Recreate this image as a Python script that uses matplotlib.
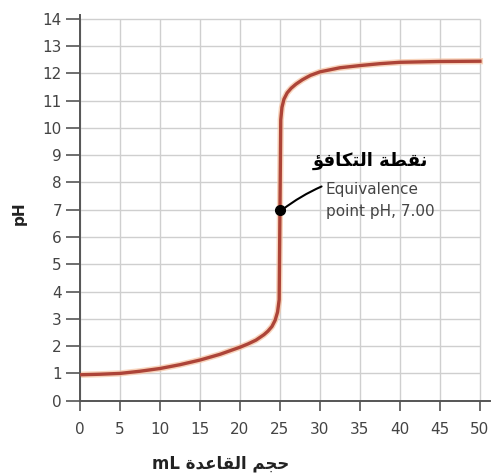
import matplotlib
matplotlib.use('Agg')
import matplotlib.pyplot as plt

# titration curve: volume of base added (mL) vs pH
volume = [0, 2.5, 5, 7.5, 10, 12.5, 15, 17.5, 20, 21, 22, 23, 23.5, 24, 24.4, 24.7, 24.9,
          25.0, 25.1, 25.25, 25.5, 25.9, 26.4, 27, 27.8, 28.8, 30, 32.5, 35, 37.5, 40, 45, 50]
ph = [0.95, 0.97, 1.0, 1.08, 1.18, 1.32, 1.49, 1.7, 1.96, 2.08, 2.22, 2.42, 2.55, 2.72, 2.95, 3.25, 3.7,
      7.0, 10.3, 10.75, 11.05, 11.28, 11.45, 11.6, 11.76, 11.92, 12.05, 12.2, 12.28, 12.35, 12.4, 12.43, 12.44]

x_ticks = list(range(0, 51, 5))
y_ticks = list(range(0, 15))

equiv_x = 25.0
equiv_ph = 7.0

# arabic strings written in presentation forms, visual order (no shaping in matplotlib)
title_ar = "\uFE86\uFED3\uFE8E\uFEDC\uFE98\uFEDF\uFE8D \uFE94\uFEC4\uFED8\uFEE7"
xlabel_ar = "mL \uFE93\uFEAA\uFECB\uFE8E\uFED8\uFEDF\uFE8D \uFEE2\uFEA0\uFEA3"

fig = plt.figure(figsize=(4.92, 4.75), dpi=100)
ax = fig.add_axes([0.1626, 0.1564, 0.834, 0.813])

# grid limited to the 0-50 / 0-14 box
ax.hlines(y_ticks, 0, 50, color='#cfcfcf', lw=1.0, zorder=1)
ax.vlines(x_ticks, 0, 14, color='#cfcfcf', lw=1.0, zorder=1)

ax.plot(volume, ph, color='#f6c2a0', lw=4.5, alpha=0.7, solid_joinstyle='round', zorder=2)
ax.plot(volume, ph, color='#ad4438', lw=2.4, solid_joinstyle='round', zorder=3)
ax.plot([equiv_x], [equiv_ph], 'o', color='black', ms=7, zorder=4)

ax.annotate('', xy=(equiv_x + 0.3, equiv_ph), xytext=(30.2, 7.85),
            arrowprops=dict(arrowstyle='-', color='black', lw=1.5,
                            connectionstyle='arc3,rad=0.06', shrinkA=0, shrinkB=0))
ax.text(29.1, 8.78, title_ar, fontsize=13, fontweight='bold', color='black',
        ha='left', va='center', family='DejaVu Sans')
ax.text(30.75, 7.75, 'Equivalence', fontsize=11, color='#444444', ha='left', va='center')
ax.text(30.75, 6.95, 'point pH, 7.00', fontsize=11, color='#444444', ha='left', va='center')

ax.set_xlim(0, 51.3)
ax.set_ylim(0, 14.15)
ax.set_xticks(x_ticks)
ax.set_yticks(y_ticks)

for s in ['top', 'right']:
    ax.spines[s].set_visible(False)
for s in ['left', 'bottom']:
    ax.spines[s].set_color('#555555')
    ax.spines[s].set_linewidth(1.4)

ax.tick_params(axis='y', length=10, width=1.2, color='#555555', labelsize=11,
               labelcolor='#444444', pad=3)
ax.tick_params(axis='x', length=7, width=1.2, color='#555555', labelsize=11,
               labelcolor='#444444', pad=8)

fig.text(0.04, 0.552, 'pH', rotation=90, fontsize=11, fontweight='bold',
         ha='center', va='center', color='#222222')
fig.text(0.449, 0.025, xlabel_ar, fontsize=12, fontweight='bold',
         ha='center', va='center', color='#222222', family='DejaVu Sans')

fig.savefig('out.png', dpi=100, facecolor='white')
